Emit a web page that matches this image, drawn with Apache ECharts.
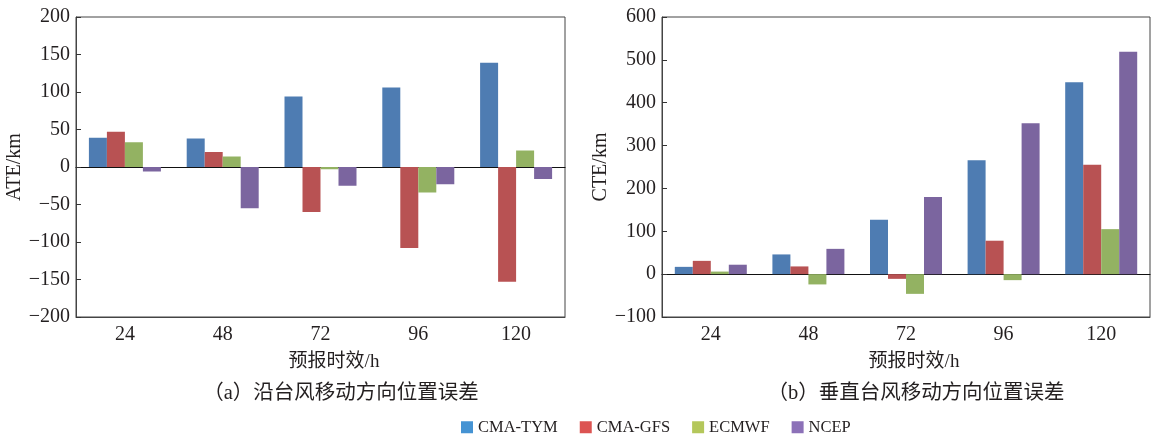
<!DOCTYPE html>
<html>
<head>
<meta charset="utf-8">
<script src="https://cdn.jsdelivr.net/npm/echarts@6/dist/echarts.min.js"></script>
<style>
  html, body { margin: 0; padding: 0; background: #fff; }
  #chart { width: 1152px; height: 436px; }
</style>
</head>
<body>
<div id="chart"></div>
<script>
// Forecast lead times (h)
const leadTimes = ['24', '48', '72', '96', '120'];
const modelNames = ['CMA-TYM', 'CMA-GFS', 'ECMWF', 'NCEP'];

// (a) along-track error, km
const ateTYM  = [39, 38, 94, 106, 139];
const ateGFS  = [47, 20, -60, -108, -153];
const ateEC   = [33, 14, -3, -34, 22];
const ateNCEP = [-6, -55, -25, -23, -16];

// (b) cross-track error, km
const cteTYM  = [17, 46, 127, 266, 448];
const cteGFS  = [31, 18, -11, 78, 255];
const cteEC   = [6, -24, -46, -14, 105];
const cteNCEP = [22, 59, 180, 352, 519];

const ateTicks = { min: -200, max: 200, interval: 50 };
const cteTicks = { min: -100, max: 600, interval: 100 };

const barColors    = ['#4e7cb2', '#b85253', '#93b262', '#7b659f'];
const legendColors = ['#4593d3', '#dc5452', '#b4c75b', '#8c71b8'];

const numFont = '"Liberation Serif", "Noto Sans CJK SC", serif';
const textColor = '#231f20';
const minus = v => String(v).replace('-', '\u2212');

function xAxesFor(gridIndex) {
  return [
    { // framed bottom axis carrying the lead-time labels
      type: 'category', gridIndex, data: leadTimes, position: 'bottom',
      axisLine: { onZero: false, lineStyle: { color: '#444', width: 1 } },
      axisTick: { inside: true, alignWithLabel: true, length: 7, lineStyle: { color: '#333' } },
      axisLabel: { fontFamily: numFont, fontSize: 20, color: textColor, margin: 8 },
      splitLine: { show: false }
    },
    { // baseline at zero with ticks between groups
      type: 'category', gridIndex, data: leadTimes, position: 'bottom',
      axisLine: { onZero: true, lineStyle: { color: '#111', width: 1.2 } },
      axisTick: { inside: true, length: 7, lineStyle: { color: '#111' } },
      axisLabel: { show: false },
      splitLine: { show: false }
    }
  ];
}

function yAxisFor(gridIndex, ticks, name) {
  return {
    type: 'value', gridIndex, min: ticks.min, max: ticks.max, interval: ticks.interval,
    name, nameLocation: 'middle', nameGap: 50, nameRotate: 90,
    nameTextStyle: { fontFamily: numFont, fontSize: 20, color: textColor },
    axisLine: { show: true, lineStyle: { color: '#444', width: 1 } },
    axisTick: { show: true, inside: true, length: 5, lineStyle: { color: '#333' } },
    axisLabel: { fontFamily: numFont, fontSize: 20, color: textColor, margin: 6, formatter: minus },
    splitLine: { show: false }
  };
}

function barSeries(name, data, colorIdx, xAxisIndex, yAxisIndex) {
  return {
    type: 'bar', name, data, xAxisIndex, yAxisIndex,
    barWidth: 18, barGap: '0%',
    itemStyle: { color: barColors[colorIdx] },
    emphasis: { disabled: true }
  };
}

const chart = echarts.init(document.getElementById('chart'), null, { renderer: 'canvas' });

chart.setOption({
  animation: false,
  backgroundColor: '#fff',
  grid: [
    { left: 76, right: 587, top: 17, bottom: 119, show: true, borderColor: '#444', borderWidth: 1, backgroundColor: 'transparent' },
    { left: 662, right: 2, top: 17, bottom: 119, show: true, borderColor: '#444', borderWidth: 1, backgroundColor: 'transparent' }
  ],
  xAxis: [...xAxesFor(0), ...xAxesFor(1)],
  yAxis: [yAxisFor(0, ateTicks, 'ATE/km'), yAxisFor(1, cteTicks, 'CTE/km')],
  title: [
    { text: '预报时效/h', left: 329, top: 348, textAlign: 'center',
      textStyle: { fontFamily: numFont, fontSize: 19, fontWeight: 'normal', color: textColor } },
    { text: '预报时效/h', left: 909, top: 348, textAlign: 'center',
      textStyle: { fontFamily: numFont, fontSize: 19, fontWeight: 'normal', color: textColor } },
    { text: '（a）沿台风移动方向位置误差', left: 336, top: 378, textAlign: 'center',
      textStyle: { fontFamily: numFont, fontSize: 20.5, fontWeight: 'normal', color: textColor } },
    { text: '（b）垂直台风移动方向位置误差', left: 911, top: 378, textAlign: 'center',
      textStyle: { fontFamily: numFont, fontSize: 20.5, fontWeight: 'normal', color: textColor } }
  ],
  legend: {
    left: 461, top: 419, padding: 0, itemWidth: 12, itemHeight: 12, itemGap: 22, icon: 'rect',
    selectedMode: false,
    textStyle: { fontFamily: numFont, fontSize: 16.5, color: textColor },
    data: modelNames.map((n, i) => ({ name: n, itemStyle: { color: legendColors[i] } }))
  },
  series: [
    barSeries(modelNames[0], ateTYM, 0, 1, 0),
    barSeries(modelNames[1], ateGFS, 1, 1, 0),
    barSeries(modelNames[2], ateEC, 2, 1, 0),
    barSeries(modelNames[3], ateNCEP, 3, 1, 0),
    barSeries(modelNames[0], cteTYM, 0, 3, 1),
    barSeries(modelNames[1], cteGFS, 1, 3, 1),
    barSeries(modelNames[2], cteEC, 2, 3, 1),
    barSeries(modelNames[3], cteNCEP, 3, 3, 1)
  ]
});
</script>
</body>
</html>
